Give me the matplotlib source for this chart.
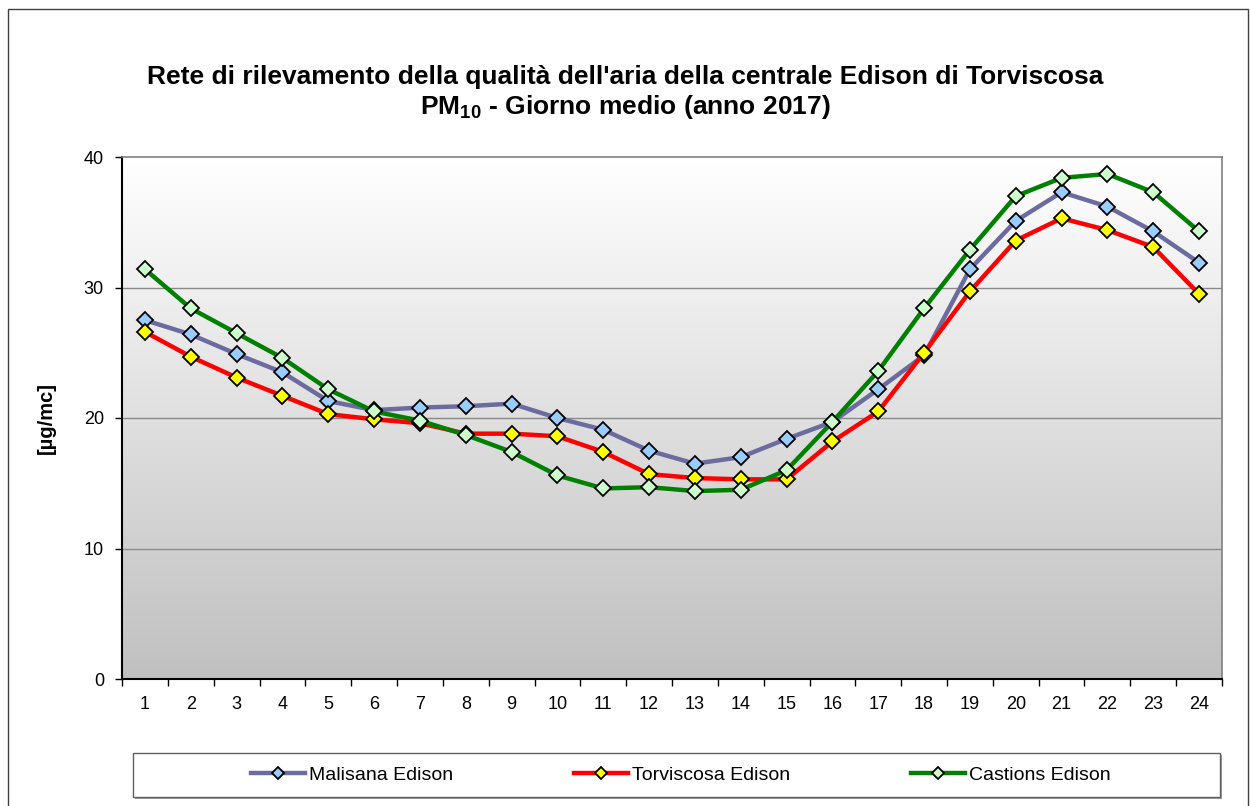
import numpy as np
import matplotlib
matplotlib.use("Agg")
import matplotlib.pyplot as plt
from matplotlib.patches import Rectangle
from matplotlib.colors import LinearSegmentedColormap

plt.rcParams['font.family'] = ['Liberation Sans', 'DejaVu Sans']
plt.rcParams['mathtext.fontset'] = 'custom'
plt.rcParams['mathtext.bf'] = 'Liberation Sans:bold'
plt.rcParams['mathtext.rm'] = 'Liberation Sans'

hours = list(range(1, 25))
malisana = [27.5, 26.4, 24.9, 23.5, 21.3, 20.6, 20.8, 20.9, 21.1, 20.0, 19.1, 17.5,
            16.5, 17.0, 18.4, 19.7, 22.2, 24.8, 31.4, 35.1, 37.3, 36.2, 34.3, 31.9]
torviscosa = [26.6, 24.7, 23.1, 21.7, 20.3, 19.9, 19.6, 18.8, 18.8, 18.6, 17.4, 15.7,
              15.4, 15.3, 15.3, 18.2, 20.5, 25.0, 29.7, 33.6, 35.3, 34.4, 33.1, 29.5]
castions = [31.4, 28.4, 26.5, 24.6, 22.2, 20.5, 19.8, 18.7, 17.4, 15.6, 14.6, 14.7,
            14.4, 14.5, 16.0, 19.7, 23.6, 28.4, 32.9, 37.0, 38.4, 38.7, 37.3, 34.3]
series_names = ["Malisana Edison", "Torviscosa Edison", "Castions Edison"]
yticks = [0, 10, 20, 30, 40]

W, H = 1250, 806
fig = plt.figure(figsize=(W / 100, H / 100), dpi=100)

# outer frame
fig.patches.append(Rectangle((8 / W, -0.01), (1248 - 8) / W, 1 - 9 / H + 0.01,
                             transform=fig.transFigure, fill=False,
                             edgecolor='#404040', linewidth=1.0))

L, R, T, B = 122, 1222, 157, 679
ax = fig.add_axes([L / W, 1 - B / H, (R - L) / W, (B - T) / H])

# gradient background
grad = np.linspace(0, 1, 256).reshape(-1, 1)
cmap = LinearSegmentedColormap.from_list('g', ['#ffffff', '#c0c0c0'])
ax.imshow(grad, aspect='auto', cmap=cmap, extent=[0, 1, 0, 1],
          transform=ax.transAxes, zorder=0, origin='upper')

for v in yticks[1:-1]:
    ax.axhline(v, color='#8a8a8a', linewidth=1.0, zorder=1)

styles = [
    (malisana, '#6B6B9F', '#99CCFF'),
    (torviscosa, '#FF0000', '#FFFF00'),
    (castions, '#008000', '#CCFFCC'),
]
handles = []
for (vals, lc, fc), name in zip(styles, series_names):
    h, = ax.plot(hours, vals, color=lc, linewidth=3.2, marker='D', markersize=8,
                 markerfacecolor=fc, markeredgecolor='black', markeredgewidth=1.3,
                 zorder=3, label=name)
    handles.append(h)

ax.set_xlim(0.5, 24.5)
ax.set_ylim(0, 40)
ax.set_yticks(yticks)
ax.set_xticks(hours)
ax.set_xticks(np.arange(0.5, 25, 1), minor=True)
ax.tick_params(axis='x', which='major', length=0, pad=12, labelsize=13)
ax.tick_params(axis='x', which='minor', length=5, width=1, direction='out')
ax.tick_params(axis='y', which='major', length=5, width=1, labelsize=13, pad=8)

for s in ['top', 'right']:
    ax.spines[s].set_color('#808080')
    ax.spines[s].set_linewidth(1.2)
for s in ['left', 'bottom']:
    ax.spines[s].set_color('black')
    ax.spines[s].set_linewidth(1.5)

ax.set_ylabel('[µg/mc]', fontsize=14.5, fontweight='bold', labelpad=20)

fig.text(0.5, 1 - 77 / H, "Rete di rilevamento della qualità dell'aria della centrale Edison di Torviscosa",
         ha='center', va='center', fontsize=19, fontweight='bold')
fig.text(0.5, 1 - 107 / H, r"PM$_{\mathbf{10}}$ - Giorno medio (anno 2017)",
         ha='center', va='center', fontsize=19, fontweight='bold')

# legend box
lx0, lx1, ly0, ly1 = 133, 1220, 753, 797
fig.patches.append(Rectangle((lx0 / W + 2 / W, 1 - ly1 / H - 2 / H), (lx1 - lx0) / W, (ly1 - ly0) / H,
                             transform=fig.transFigure, facecolor='#a0a0a0',
                             edgecolor='none', zorder=0))
fig.patches.append(Rectangle((lx0 / W, 1 - ly1 / H), (lx1 - lx0) / W, (ly1 - ly0) / H,
                             transform=fig.transFigure, facecolor='white',
                             edgecolor='#606060', linewidth=1.0, zorder=1))
leg = fig.legend(handles=handles, loc='center',
                 bbox_to_anchor=((lx0 + lx1) / 2 / W + 4 / W, 1 - (ly0 + ly1) / 2 / H),
                 ncol=3, frameon=False, fontsize=14, handlelength=2.8,
                 handletextpad=0.2, columnspacing=6.2)
for lh in leg.legend_handles:
    lh.set_markersize(6.5)

fig.savefig('out.png', dpi=100)
